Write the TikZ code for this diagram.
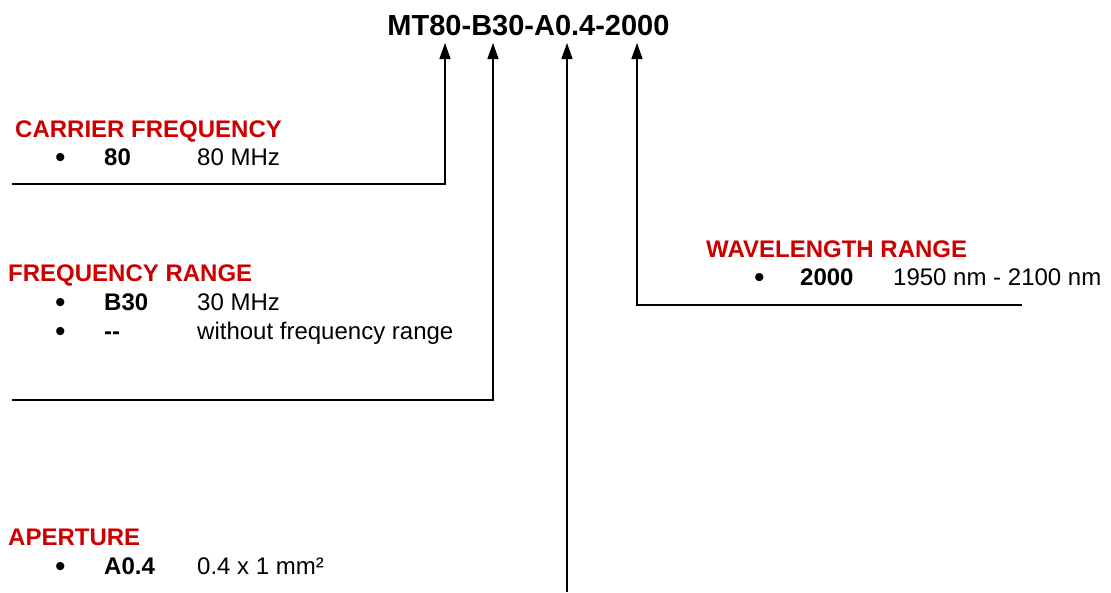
\documentclass[tikz,border=0pt]{standalone}
\usepackage{fontspec}
\setmainfont{Liberation Sans}
\usetikzlibrary{arrows.meta}
\definecolor{hdred}{RGB}{204,0,0}
\begin{document}
\begin{tikzpicture}[x=1pt,y=-1pt,
  txt/.style={anchor=base west,inner sep=0pt,font=\fontsize{24}{28}\selectfont},
  bul/.style={anchor=base west,inner sep=0pt,font=\fontsize{30}{34}\selectfont},
  hdr/.style={txt,text=hdred,font=\fontsize{24}{28}\selectfont\bfseries},
  code/.style={txt,font=\fontsize{24}{28}\selectfont\bfseries},
  conn/.style={line width=1.2pt,-{Triangle[length=16pt,width=11pt]}}]
\useasboundingbox (0,0) rectangle (1111,592);
\node[anchor=base,inner sep=0pt,font=\fontsize{29}{34}\selectfont\bfseries] (title) at (528.5,35) {MT80-B30-A0.4-2000};
% carrier frequency
\node[hdr] (h1) at (15,137) {CARRIER FREQUENCY};
\node[bul] (b1) at (55,167) {•};
\node[code] (c1) at (104,165) {80};
\node[txt] (d1) at (197,165) {80 MHz};
% frequency range
\node[hdr] (h2) at (8,281) {FREQUENCY RANGE};
\node[bul] (b2) at (55,312) {•};
\node[code] (c2) at (104,310) {B30};
\node[txt] (d2) at (197,310) {30 MHz};
\node[bul] (b3) at (55,341) {•};
\node[code] (c3) at (104,339) {-{}-};
\node[txt] (d3) at (197,339) {without frequency range};
% aperture
\node[hdr] (h3) at (8,545) {APERTURE};
\node[bul] (b4) at (55,576) {•};
\node[code] (c4) at (104,574) {A0.4};
\node[txt] (d4) at (197,574) {0.4 x 1 mm²};
% wavelength
\node[hdr] (h4) at (706,257) {WAVELENGTH RANGE};
\node[bul] (b5) at (754,287) {•};
\node[code] (c5) at (800,285) {2000};
\node[txt] (d5) at (893,285) {1950 nm - 2100 nm};
% connectors
\coordinate (s1) at (12,184);
\coordinate (k1) at (445,184);
\coordinate (t1) at (445,43);
\coordinate (s2) at (12,400);
\coordinate (k2) at (493,400);
\coordinate (t2) at (493,43);
\coordinate (s3) at (567,592);
\coordinate (t3) at (567,43);
\coordinate (s4) at (1022,305);
\coordinate (k4) at (637,305);
\coordinate (t4) at (637,43);
\draw[conn] (s1) -- (k1) -- (t1);
\draw[conn] (s2) -- (k2) -- (t2);
\draw[conn] (s3) -- (t3);
\draw[conn] (s4) -- (k4) -- (t4);
\end{tikzpicture}
\end{document}
